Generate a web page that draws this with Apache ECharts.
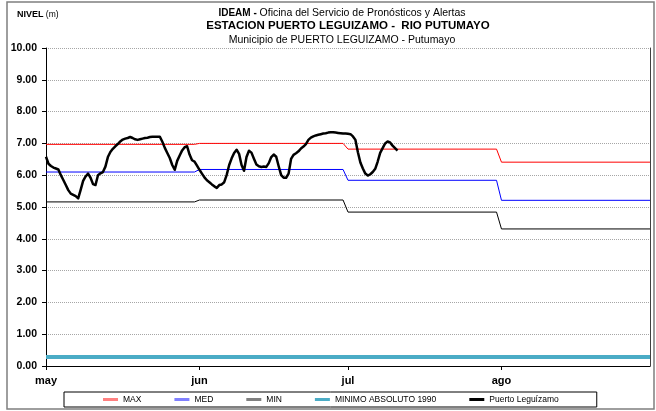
<!DOCTYPE html>
<html><head><meta charset="utf-8">
<script src="https://cdn.jsdelivr.net/npm/echarts@6/dist/echarts.min.js"></script>
<style>html,body{margin:0;padding:0;background:#fff}#c{width:656px;height:411px}</style>
</head><body><div id="c"></div>
<script>
// Month labels and the day index (1 May = day 0) where each month starts
const meses = ['may', 'jun', 'jul', 'ago'];
const inicioMes = [0, 31, 61, 92];
const finPeriodo = 122;

// Monthly reference levels (m)
const nivelMax = [6.97, 7.00, 6.82, 6.41];
const nivelMed = [6.10, 6.18, 5.84, 5.21];
const nivelMin = [5.16, 5.22, 4.84, 4.31];
const minimoAbsoluto1990 = 0.28;

// Observed levels at Puerto Leguízamo, two readings per day from 1 May
const pasoLecturas = 0.5;
const nivelPuerto = [
  6.58, 6.36, 6.29, 6.24, 6.21, 6.18, 6.00, 5.85, 5.69, 5.53,
  5.42, 5.38, 5.34, 5.27, 5.54, 5.82, 5.96, 6.05, 5.92, 5.72,
  5.69, 6.00, 6.06, 6.10, 6.27, 6.57, 6.73, 6.83, 6.91, 6.98,
  7.06, 7.12, 7.15, 7.17, 7.20, 7.17, 7.13, 7.11, 7.13, 7.15,
  7.17, 7.18, 7.20, 7.21, 7.21, 7.21, 7.21, 7.05, 6.86, 6.70,
  6.54, 6.32, 6.17, 6.45, 6.62, 6.78, 6.88, 6.91, 6.65, 6.47,
  6.43, 6.30, 6.17, 6.05, 5.93, 5.84, 5.78, 5.71, 5.65, 5.60,
  5.69, 5.71, 5.78, 6.01, 6.32, 6.53, 6.70, 6.80, 6.67, 6.32,
  6.14, 6.57, 6.77, 6.71, 6.52, 6.34, 6.28, 6.26, 6.27, 6.26,
  6.38, 6.57, 6.65, 6.58, 6.28, 6.00, 5.92, 5.92, 6.05, 6.51,
  6.64, 6.69, 6.75, 6.84, 6.90, 6.98, 7.11, 7.18, 7.22, 7.25,
  7.27, 7.29, 7.31, 7.32, 7.34, 7.35, 7.35, 7.34, 7.33, 7.32,
  7.31, 7.31, 7.30, 7.29, 7.22, 7.11, 6.72, 6.40, 6.21, 6.05,
  5.99, 6.03, 6.10, 6.20, 6.43, 6.70, 6.85, 7.00, 7.06, 7.03,
  6.93, 6.85, 6.77
];

// Monthly level held from the first to the last day of each month
function escalones(valores) {
  const pts = [];
  valores.forEach((v, m) => {
    const fin = m + 1 < inicioMes.length ? inicioMes[m + 1] - 1 : finPeriodo;
    pts.push([inicioMes[m], v], [fin, v]);
  });
  return pts;
}

const fuente = 'Liberation Sans, Arial, sans-serif';

const chart = echarts.init(document.getElementById('c'), null, { renderer: 'canvas' });
chart.setOption({
  animation: false,
  backgroundColor: '#fff',
  title: [
    {
      left: 17, top: 10, padding: 0,
      text: '{b|NIVEL}{n| (m)}',
      textStyle: { fontWeight: 'normal', rich: {
        b: { fontFamily: fuente, fontSize: 9, fontWeight: 'bold', color: '#000' },
        n: { fontFamily: fuente, fontSize: 8.5, fontWeight: 'normal', color: '#000' }
      } }
    },
    {
      left: 342, top: 8, padding: 0, textAlign: 'center',
      text: '{b|IDEAM - }{n|Oficina del Servicio de Pronósticos y Alertas}',
      textStyle: { fontWeight: 'normal', rich: {
        b: { fontFamily: fuente, fontSize: 10, fontWeight: 'bold', color: '#000' },
        n: { fontFamily: fuente, fontSize: 10.5, fontWeight: 'normal', color: '#000' }
      } }
    },
    {
      left: 348, top: 20, padding: 0, textAlign: 'center',
      text: 'ESTACION PUERTO LEGUIZAMO -  RIO PUTUMAYO',
      textStyle: { fontFamily: fuente, fontSize: 11.5, fontWeight: 'bold', color: '#000' }
    },
    {
      left: 342, top: 35, padding: 0, textAlign: 'center',
      text: 'Municipio de PUERTO LEGUIZAMO - Putumayo',
      textStyle: { fontFamily: fuente, fontSize: 10.5, fontWeight: 'normal', color: '#000' }
    }
  ],
  graphic: [
    { type: 'rect', z: -10, shape: { x: 7, y: 2, width: 647, height: 407 },
      style: { fill: null, stroke: '#7f7f7f', lineWidth: 1.5 } }
  ],
  grid: { left: 46, right: 6, top: 48, bottom: 45 },
  xAxis: {
    type: 'value', min: 0, max: finPeriodo,
    axisLine: { lineStyle: { color: '#000', width: 1 } },
    axisTick: { show: true, customValues: inicioMes, length: 4, lineStyle: { color: '#000' } },
    axisLabel: {
      customValues: inicioMes,
      formatter: v => meses[inicioMes.indexOf(v)],
      fontFamily: fuente, fontSize: 11, fontWeight: 'bold', color: '#000', margin: 9
    },
    splitLine: { show: false }
  },
  yAxis: [
    {
      type: 'value', min: 0, max: 10, interval: 1,
      axisLine: { show: true, lineStyle: { color: '#000' } },
      axisTick: { show: true, length: 4, lineStyle: { color: '#000' } },
      axisLabel: {
        formatter: v => v.toFixed(2),
        fontFamily: fuente, fontSize: 10.5, fontWeight: 'bold', color: '#000', margin: 9
      },
      splitLine: { show: true, lineStyle: { color: '#a6a6a6', type: 'dotted', width: 1 } }
    },
    {
      type: 'value', min: 0, max: 10, position: 'right',
      axisLine: { show: true, lineStyle: { color: '#404040' } },
      axisTick: { show: false }, axisLabel: { show: false }, splitLine: { show: false }
    }
  ],
  legend: {
    left: 64, top: 392,
    padding: [3, 38, 3, 39],
    borderColor: '#000', borderWidth: 1,
    itemGap: 33, itemWidth: 15, itemHeight: 3, icon: 'rect',
    textStyle: { fontFamily: fuente, fontSize: 8.5, color: '#000' },
    data: [
      { name: 'MAX', itemStyle: { color: '#ff8080' } },
      { name: 'MED', itemStyle: { color: '#8080ff' } },
      { name: 'MIN', itemStyle: { color: '#808080' } },
      { name: 'MINIMO ABSOLUTO 1990', itemStyle: { color: '#4bacc6' } },
      { name: 'Puerto Leguízamo', itemStyle: { color: '#000' } }
    ]
  },
  series: [
    { name: 'MAX', type: 'line', data: escalones(nivelMax), showSymbol: false, color: '#ff0000',
      lineStyle: { width: 1, color: '#ff0000' }, z: 3 },
    { name: 'MED', type: 'line', data: escalones(nivelMed), showSymbol: false, color: '#0000ff',
      lineStyle: { width: 1, color: '#0000ff' }, z: 3 },
    { name: 'MIN', type: 'line', data: escalones(nivelMin), showSymbol: false, color: '#000',
      lineStyle: { width: 1, color: '#000' }, z: 3 },
    { name: 'MINIMO ABSOLUTO 1990', type: 'line', showSymbol: false, color: '#4bacc6',
      data: [[0, minimoAbsoluto1990], [finPeriodo, minimoAbsoluto1990]],
      lineStyle: { width: 4, color: '#4bacc6' }, z: 3 },
    { name: 'Puerto Leguízamo', type: 'line', showSymbol: false, color: '#000',
      data: nivelPuerto.map((v, i) => [i * pasoLecturas, v]),
      lineStyle: { width: 2.5, color: '#000', join: 'round' }, z: 4 }
  ]
});
</script>
</body></html>
